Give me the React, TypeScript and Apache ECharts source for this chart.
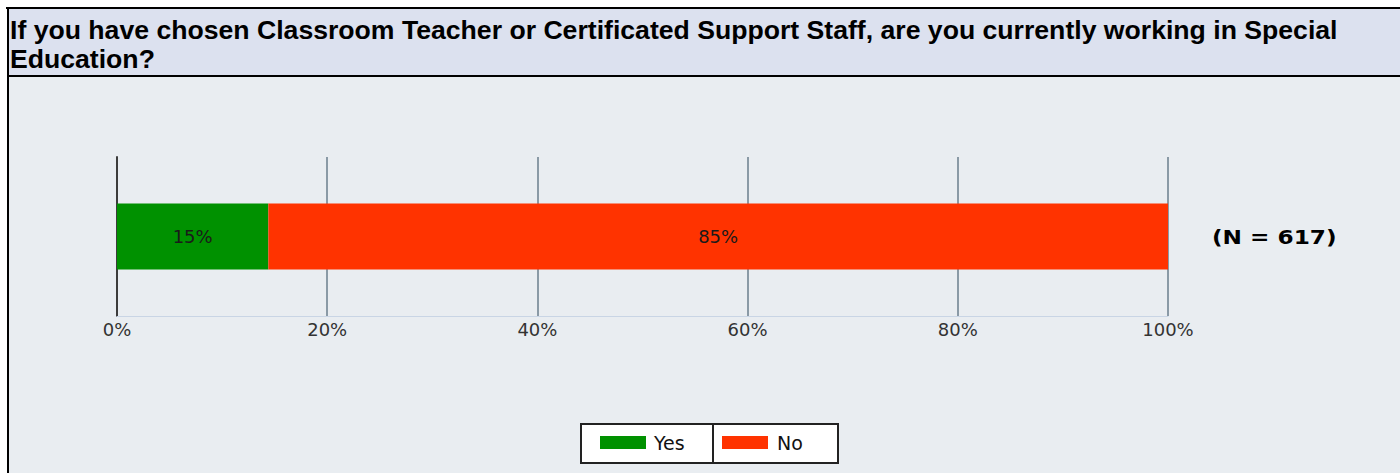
import React, { useEffect, useRef } from "react";
import * as echarts from "echarts";

const titleLines = [
  "If you have chosen Classroom Teacher or Certificated Support Staff, are you currently working in Special",
  "Education?",
];
const categories = ["Special Education"];
const seriesNames = ["Yes", "No"];
const yesValues = [14.4];
const noValues = [85.6];
const yesLabels = ["15%"];
const noLabels = ["85%"];
const seriesColors = ["#009100", "#ff3300"];
const xTicks = [0, 20, 40, 60, 80, 100];
const nLabel = "(N = 617)";

export default function App() {
  const ref = useRef<HTMLDivElement>(null);
  useEffect(() => {
    const chart = echarts.init(ref.current!, null, { renderer: "svg" });
    const W = 1400;
    const H = 473;
    const legendX = 581;
    const legendY = 424;
    const cellW = [132, 125];
    const graphic: any[] = [
      { type: "rect", shape: { x: 7, y: 7, width: W - 7, height: 70 }, style: { fill: "#dce1ef" }, z: 0 },
      { type: "rect", shape: { x: 7, y: 77, width: W - 7, height: H - 77 }, style: { fill: "#e9edf1" }, z: 0 },
      { type: "line", shape: { x1: 6, y1: 8, x2: W, y2: 8 }, style: { stroke: "#000", lineWidth: 2 }, z: 1 },
      { type: "line", shape: { x1: 8, y1: 7, x2: 8, y2: H }, style: { stroke: "#000", lineWidth: 2 }, z: 1 },
      { type: "line", shape: { x1: 7, y1: 76, x2: W, y2: 76 }, style: { stroke: "#000", lineWidth: 2 }, z: 1 },
      ...titleLines.map((t, i) => ({
        type: "text",
        x: 10,
        y: 30 + i * 29,
        scaleX: 1.065,
        style: {
          text: t,
          font: "bold 25px 'Liberation Sans', Arial, sans-serif",
          fill: "#000",
          textVerticalAlign: "middle",
        },
        z: 2,
      })),
      {
        type: "text",
        x: 1212,
        y: 237,
        scaleX: 1.16,
        style: {
          text: nLabel,
          font: "bold 20px 'DejaVu Sans', Verdana, sans-serif",
          fill: "#000",
          textVerticalAlign: "middle",
        },
        z: 2,
      },
      {
        type: "rect",
        shape: { x: legendX, y: legendY, width: cellW[0] + cellW[1], height: 39 },
        style: { fill: "#ffffff", stroke: "#222", lineWidth: 2 },
        z: 2,
      },
      {
        type: "line",
        shape: { x1: legendX + cellW[0], y1: legendY, x2: legendX + cellW[0], y2: legendY + 39 },
        style: { stroke: "#222", lineWidth: 2 },
        z: 3,
      },
      ...seriesNames.flatMap((name, i) => {
        const cx = legendX + (i === 0 ? 0 : cellW[0]);
        return [
          {
            type: "rect",
            shape: { x: cx + 19 - (i === 0 ? 0 : 10), y: legendY + 12, width: 46, height: 13 },
            style: { fill: seriesColors[i] },
            z: 3,
          },
          {
            type: "text",
            x: cx + 73 - (i === 0 ? 0 : 9),
            y: legendY + 19,
            style: {
              text: name,
              font: "19px 'DejaVu Sans', Verdana, sans-serif",
              fill: "#111",
              textVerticalAlign: "middle",
            },
            z: 3,
          },
        ];
      }),
    ];

    const barLabel = (labels: string[]) => ({
      show: true,
      position: "inside",
      formatter: (p: any) => labels[p.dataIndex],
      color: "#1a1a1a",
      fontFamily: "'DejaVu Sans', Verdana, sans-serif",
      fontSize: 18,
    });

    const option: any = {
      animation: false,
      graphic,
      grid: { left: 117, right: W - 1168, top: 157, height: 159, containLabel: false },
      xAxis: {
        type: "value",
        min: 0,
        max: 100,
        interval: 20,
        axisLine: { show: true, lineStyle: { color: "#c9d5e5", width: 1 } },
        axisTick: { show: false },
        splitLine: { show: true, lineStyle: { color: "#8a9aa6", width: 2 } },
        axisLabel: {
          formatter: (v: number) => (xTicks.includes(v) ? v + "%" : ""),
          color: "#333",
          fontFamily: "'DejaVu Sans', Verdana, sans-serif",
          fontSize: 18,
          margin: 4,
        },
      },
      yAxis: {
        type: "category",
        data: categories,
        axisLine: { show: true, lineStyle: { color: "#3c3c3c", width: 2 } },
        axisTick: { show: false },
        axisLabel: { show: false },
      },
      series: [
        {
          name: seriesNames[0],
          type: "bar",
          stack: "total",
          data: yesValues,
          barWidth: 66,
          itemStyle: { color: seriesColors[0] },
          label: barLabel(yesLabels),
          z: 3,
        },
        {
          name: seriesNames[1],
          type: "bar",
          stack: "total",
          data: noValues,
          barWidth: 66,
          itemStyle: { color: seriesColors[1] },
          label: barLabel(noLabels),
          z: 3,
        },
      ],
    };
    chart.setOption(option);
    return () => chart.dispose();
  }, []);
  return (
    <div
      ref={ref}
      style={{ position: "fixed", left: 0, top: 0, width: 1400, height: 473, background: "#ffffff" }}
    />
  );
}
